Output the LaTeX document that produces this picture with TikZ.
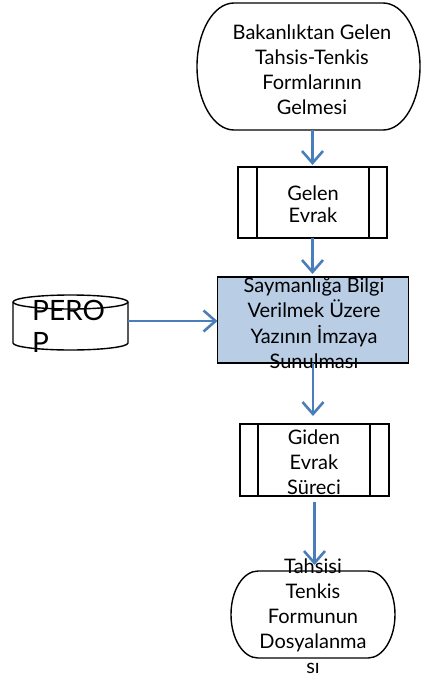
\documentclass[tikz,border=0pt]{standalone}
\usepackage{fontspec}
\setmainfont{Lato}
\usetikzlibrary{arrows.meta}
\definecolor{arrowblue}{RGB}{74,126,187}
\definecolor{boxblue}{RGB}{185,205,229}
\tikzset{
  flow/.style={draw=arrowblue, line width=2.6pt, -{Straight Barb[length=12pt,width=21pt]}},
  shapeline/.style={draw=black, line width=1.4pt},
  lbl/.style={font=\fontsize{20}{25}\selectfont, align=center, inner sep=0pt},
  holder/.style={inner sep=0pt, outer sep=0pt}
}
\begin{document}
\begin{tikzpicture}[x=1pt,y=-1pt]
\useasboundingbox (0,0) rectangle (422,680);

% top terminator
\draw[shapeline] (234,3) -- (383,3) arc[start angle=-90,end angle=90,x radius=37,y radius=63.5]
  -- (234,130) arc[start angle=90,end angle=270,x radius=37,y radius=63.5] -- cycle;
\node[holder, minimum width=223pt, minimum height=127pt] (start) at (308.5,66.5) {};
\node[lbl] (tstart) at (312,69.5) {Bakanlıktan Gelen\\Tahsis-Tenkis\\Formlarının\\Gelmesi};

% Gelen Evrak
\draw[shapeline] (238,167) rectangle (387,238);
\draw[shapeline] (257,167) -- (257,238) (369,167) -- (369,238);
\node[holder, minimum width=149pt, minimum height=71pt] (gelen) at (312.5,202.5) {};
\node[lbl, font=\fontsize{20}{22}\selectfont] (tgelen) at (313,204) {Gelen\\Evrak};

% blue process
\node[holder, shapeline, fill=boxblue, minimum width=191pt, minimum height=86pt] (imza) at (313,320) {};
\node[lbl, font=\fontsize{20}{25.5}\selectfont] (timza) at (314,323) {Saymanlığa Bilgi\\Verilmek Üzere\\Yazının İmzaya\\Sunulması};

% PEROP cylinder
\draw[shapeline, fill=white] (13,302) -- (13,343) arc[start angle=180,end angle=0,x radius=57.5,y radius=7]
  -- (128,302) arc[start angle=0,end angle=-180,x radius=57.5,y radius=7] -- cycle;
\draw[shapeline] (13,302) arc[start angle=180,end angle=0,x radius=57.5,y radius=7];
\node[holder, minimum width=115pt, minimum height=55pt] (perop) at (70.5,321) {};
\node[font=\fontsize{28}{32}\selectfont, align=left, inner sep=0pt, anchor=base west] (tperop) at (32,352) {PERO\\P};

% Giden Evrak
\draw[shapeline] (240,424) rectangle (389,496);
\draw[shapeline] (258,424) -- (258,496) (370,424) -- (370,496);
\node[holder, minimum width=149pt, minimum height=72pt] (giden) at (314.5,460) {};
\node[lbl] (tgiden) at (314,462) {Giden\\Evrak\\Süreci};

% bottom terminator
\draw[shapeline] (258,571) -- (368,571) arc[start angle=-90,end angle=90,x radius=27,y radius=43.5]
  -- (258,658) arc[start angle=90,end angle=270,x radius=27,y radius=43.5] -- cycle;
\node[holder, minimum width=164pt, minimum height=87pt] (ende) at (313,614.5) {};
\node[lbl] (tende) at (313,616) {Tahsisi\\Tenkis\\Formunun\\Dosyalanma\\sı};

% connectors
\draw[flow, shorten >=2pt] (start.south -| gelen.north) -- (gelen.north);
\draw[flow, shorten >=3pt] (gelen.south) -- (gelen.south |- imza.north);
\draw[flow] (perop.east) -- (perop.east -| imza.west);
\draw[flow, shorten >=8pt] (imza.south) -- (imza.south |- giden.north);
\draw[flow, shorten <=6pt, shorten >=6pt] (giden.south) -- (giden.south |- ende.north);
\end{tikzpicture}
\end{document}
